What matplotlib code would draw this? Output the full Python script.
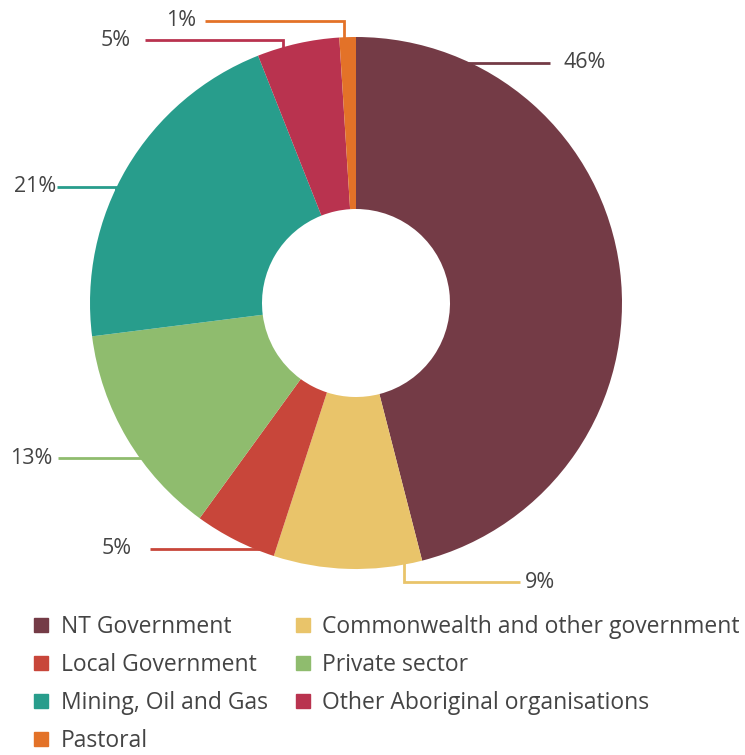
import numpy as np
import matplotlib.pyplot as plt
from matplotlib.lines import Line2D

plt.rcParams['font.family'] = ['Open Sans', 'DejaVu Sans']

# employment share by sector (%), clockwise from the top
sectors = ['NT Government', 'Commonwealth and other government', 'Local Government',
           'Private sector', 'Mining, Oil and Gas', 'Other Aboriginal organisations', 'Pastoral']
shares = [46, 9, 5, 13, 21, 5, 1]
colours = ['#743B46', '#E9C46A', '#C8463A', '#8FBC6E', '#289D8C', '#B9334F', '#E37228']

# label layout: where the leader leaves the ring (deg clockwise from top),
# label height, end of the leader and text position (pixels from top-left)
lead_angle = [25.4, 169.6, 201.3, 234.3, 294.8, 344.0, 357.4]
lab_y = [63, 582, 549, 458, 187, 40, 21]
lead_end = [550, 520, 150, 58, 57, 145, 205]
text_x = [563, 525, 132, 52, 56, 131, 196]
text_ha = ['left', 'left', 'right', 'right', 'right', 'right', 'right']

W, H = 745, 755
cx, cy, R, r_in = 356, 303, 266, 94

fig = plt.figure(figsize=(W / 100, H / 100), dpi=100)
ax = fig.add_axes([0, 0, 1, 1])
ax.set_xlim(0, W)
ax.set_ylim(0, H)
ax.set_aspect('equal')
ax.axis('off')

wedges, _ = ax.pie(shares, colors=colours, startangle=90, counterclock=False,
                   center=(cx, H - cy), radius=R,
                   wedgeprops=dict(width=R - r_in, linewidth=0))
ax.set_xlim(0, W)
ax.set_ylim(0, H)

for i, val in enumerate(shares):
    a = np.radians(lead_angle[i])
    ex = cx + (R - 2) * np.sin(a)
    ey = cy - (R - 2) * np.cos(a)
    xs = [ex, ex, lead_end[i]]
    ys = [ey, lab_y[i], lab_y[i]]
    ax.plot(xs, [H - y for y in ys], color=colours[i], lw=2, solid_capstyle='butt',
            solid_joinstyle='miter')
    ax.text(text_x[i], H - lab_y[i], f'{val}%', ha=text_ha[i], va='center',
            fontsize=15.5, color='#444444')

# legend rows read left to right; matplotlib fills columns first
order = [0, 2, 4, 6, 1, 3, 5]
handles = [Line2D([], [], marker='s', ls='none', markersize=10, color=colours[i]) for i in order]
labels = [sectors[i] for i in order]
fig.legend(handles, labels, ncol=2, loc='upper left', bbox_to_anchor=(0.031, 0.198),
           frameon=False, fontsize=16.5, labelcolor='#444444', handlelength=0.8,
           handletextpad=0.45, labelspacing=0.62, columnspacing=1.13, borderaxespad=0)

fig.savefig('out.png', dpi=100)
